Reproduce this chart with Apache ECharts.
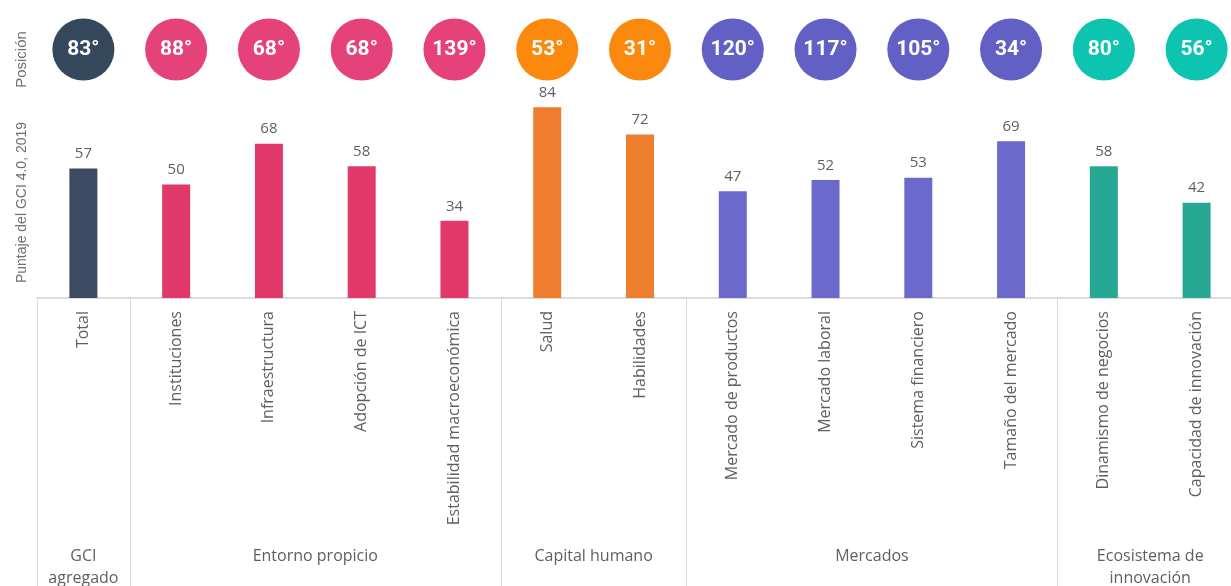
<!DOCTYPE html>
<html>
<head>
<meta charset="utf-8">
<script src="https://cdn.jsdelivr.net/npm/echarts@6/dist/echarts.min.js"></script>
<style>
  html, body { margin: 0; padding: 0; background: #fff; }
  #chart { width: 1231px; height: 586px; }
</style>
</head>
<body>
<div id="chart"></div>
<script>
const categories = ['Total', 'Instituciones', 'Infraestructura', 'Adopción de ICT', 'Estabilidad macroeconómica',
  'Salud', 'Habilidades', 'Mercado de productos', 'Mercado laboral', 'Sistema financiero',
  'Tamaño del mercado', 'Dinamismo de negocios', 'Capacidad de innovación']
const scores = [57, 50, 68, 58, 34, 84, 72, 47, 52, 53, 69, 58, 42]
const ranks = [83, 88, 68, 68, 139, 53, 31, 120, 117, 105, 34, 80, 56]
// grupo de cada categoría (índice en groups)
const groupOf = [0, 1, 1, 1, 1, 2, 2, 3, 3, 3, 3, 4, 4]
const groups = ['GCI\nagregado', 'Entorno propicio', 'Capital humano', 'Mercados', 'Ecosistema de\ninnovación']
const barColors = ['#3d4a63', '#e2396b', '#ee7e2e', '#6b69cb', '#27a895']
const dotColors = ['#35475a', '#e5417a', '#fb890e', '#6360c5', '#0dc4b0']

const chart = echarts.init(document.getElementById('chart'))
const grey = '#5f5f5f'
const font = '"Open Sans", sans-serif'

// primer índice de cada grupo -> separadores verticales
const groupStarts = groupOf.map((g, i) => (i === 0 || groupOf[i - 1] !== g) ? i : -1).filter(i => i >= 0)

const option = {
  animation: false,
  grid: [
    { left: 37, width: 1206, top: 71, bottom: 288, outerBoundsMode: 'none', containLabel: false },
    { left: 37, width: 1206, top: 19, height: 61, outerBoundsMode: 'none', containLabel: false }
  ],
  xAxis: [
    {
      type: 'category',
      gridIndex: 0,
      data: categories,
      axisLine: { lineStyle: { color: '#dcdcdc', width: 2 } },
      axisTick: {
        show: true,
        length: 292,
        interval: (idx) => groupStarts.includes(idx),
        lineStyle: { color: '#d9d9d9', width: 1 }
      },
      axisLabel: {
        rotate: 90,
        interval: 0,
        margin: 13,
        color: grey,
        fontSize: 16,
        fontFamily: font
      }
    },
    {
      type: 'category',
      gridIndex: 1,
      data: categories,
      show: false
    }
  ],
  yAxis: [
    {
      type: 'value',
      gridIndex: 0,
      min: 0,
      max: 100,
      show: true,
      axisLine: { show: false },
      axisTick: { show: false },
      axisLabel: { show: false },
      splitLine: { show: false },
      name: 'Puntaje del GCI 4.0, 2019',
      nameLocation: 'middle',
      nameRotate: 90,
      nameGap: 8,
      nameTextStyle: { color: '#6f6f6f', fontSize: 14, fontFamily: 'Liberation Sans', padding: [0, 36, 0, 0] }
    },
    {
      type: 'value',
      gridIndex: 1,
      min: 0,
      max: 2,
      axisLine: { show: false },
      axisTick: { show: false },
      axisLabel: { show: false },
      splitLine: { show: false },
      name: 'Posición',
      nameLocation: 'middle',
      nameRotate: 90,
      nameGap: 8,
      nameTextStyle: { color: '#6f6f6f', fontSize: 15, fontFamily: 'Liberation Sans', padding: [0, 20, 0, 0] }
    }
  ],
  series: [
    {
      type: 'bar',
      xAxisIndex: 0,
      yAxisIndex: 0,
      barWidth: 28,
      data: scores.map((v, i) => ({ value: v, itemStyle: { color: barColors[groupOf[i]] } })),
      label: {
        show: true,
        position: 'top',
        distance: 7,
        color: grey,
        fontSize: 15,
        fontFamily: font
      }
    },
    {
      type: 'scatter',
      xAxisIndex: 1,
      yAxisIndex: 1,
      symbol: 'circle',
      symbolSize: 62,
      data: ranks.map((r, i) => ({ value: [i, 1], rank: r, itemStyle: { color: dotColors[groupOf[i]], opacity: 1 } })),
      label: {
        show: true,
        position: 'inside',
        formatter: (p) => p.data.rank + '°',
        color: '#fff',
        fontSize: 21,
        fontWeight: 'bold',
        fontFamily: 'Roboto'
      }
    }
  ]
}
chart.setOption(option)

// etiquetas de grupo centradas bajo cada grupo
const groupText = groups.map((name, g) => {
  const idx = groupOf.map((x, i) => x === g ? i : -1).filter(i => i >= 0)
  const x0 = chart.convertToPixel({ xAxisIndex: 0 }, idx[0])
  const x1 = chart.convertToPixel({ xAxisIndex: 0 }, idx[idx.length - 1])
  return {
    type: 'text',
    x: (x0 + x1) / 2,
    y: 545,
    style: {
      text: name,
      align: 'center',
      verticalAlign: 'top',
      fill: grey,
      fontSize: 16,
      lineHeight: 22,
      fontFamily: font
    }
  }
})
chart.setOption({ graphic: groupText })
</script>
</body>
</html>
